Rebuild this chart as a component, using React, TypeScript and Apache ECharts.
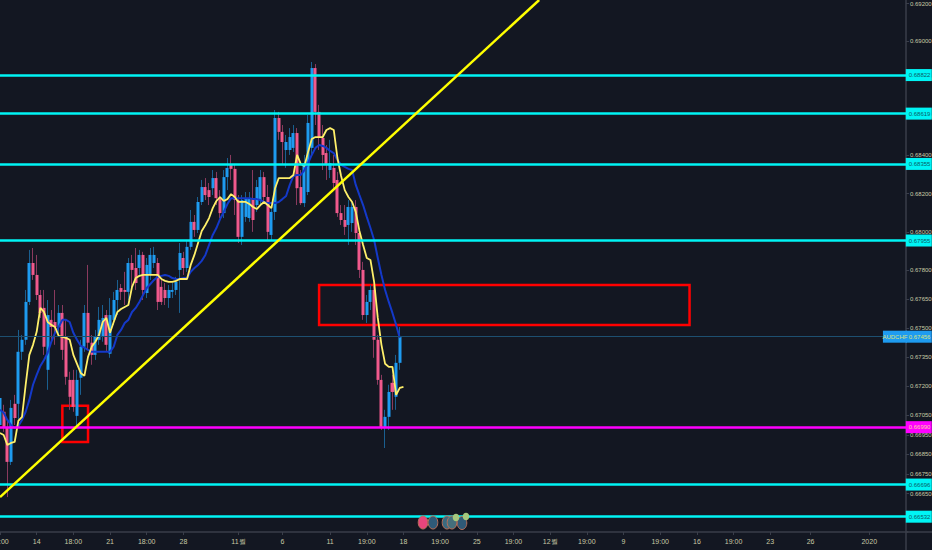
import React, { useEffect, useRef } from "react";
import * as echarts from "echarts";

const opens = [0.67001,0.67069,0.66991,0.66812,0.67110,0.67110,0.67378,0.67440,0.67636,0.67838,0.67776,0.67672,0.67605,0.67285,0.67543,0.67532,0.67506,0.67579,0.67455,0.67233,0.67233,0.67048,0.67244,0.67404,0.67579,0.67425,0.67362,0.67440,0.67455,0.67568,0.67368,0.67543,0.67646,0.67708,0.67698,0.67688,0.67838,0.67812,0.67812,0.67880,0.67682,0.67776,0.67838,0.67838,0.67714,0.67698,0.67656,0.67688,0.67698,0.67802,0.67864,0.67812,0.67922,0.68052,0.68010,0.68156,0.68234,0.68218,0.68228,0.68281,0.68176,0.68098,0.68286,0.68350,0.68329,0.68166,0.67974,0.68078,0.68072,0.68176,0.68140,0.68166,0.68286,0.68182,0.67984,0.68104,0.68596,0.68523,0.68428,0.68428,0.68439,0.68517,0.68234,0.68150,0.68208,0.68439,0.68859,0.68628,0.68491,0.68412,0.68323,0.68334,0.68271,0.68098,0.68062,0.68036,0.68046,0.68130,0.67994,0.67802,0.67568,0.67636,0.67698,0.67440,0.67233,0.66991,0.67043,0.67218,0.67146,0.67321];
const closes = [0.67140,0.66991,0.66812,0.67089,0.67037,0.67378,0.67440,0.67636,0.67838,0.67776,0.67672,0.67579,0.67404,0.67568,0.67506,0.67506,0.67579,0.67388,0.67249,0.67146,0.67094,0.67233,0.67404,0.67579,0.67425,0.67362,0.67455,0.67543,0.67553,0.67414,0.67568,0.67646,0.67698,0.67688,0.67688,0.67838,0.67802,0.67734,0.67880,0.67698,0.67828,0.67880,0.67880,0.67636,0.67636,0.67656,0.67698,0.67698,0.67740,0.67890,0.67812,0.67922,0.68052,0.68010,0.68156,0.68234,0.68192,0.68182,0.68281,0.68176,0.68098,0.68286,0.68334,0.68329,0.68166,0.67974,0.68166,0.68176,0.68176,0.68062,0.68234,0.68286,0.68182,0.68000,0.68104,0.68596,0.68523,0.68470,0.68470,0.68496,0.68517,0.68228,0.68150,0.68360,0.68570,0.68859,0.68628,0.68491,0.68402,0.68350,0.68360,0.68255,0.68098,0.68062,0.68026,0.68130,0.68130,0.67994,0.67802,0.67568,0.67636,0.67698,0.67440,0.67233,0.66991,0.67043,0.67171,0.67171,0.67321,0.67456];
const lows = [0.66976,0.66966,0.66632,0.66796,0.67001,0.67027,0.67336,0.67414,0.67620,0.67750,0.67646,0.67553,0.67362,0.67182,0.67440,0.67414,0.67465,0.67336,0.67208,0.67079,0.67069,0.66991,0.67156,0.67378,0.67388,0.67311,0.67336,0.67414,0.67430,0.67378,0.67347,0.67517,0.67568,0.67646,0.67620,0.67646,0.67698,0.67698,0.67776,0.67646,0.67656,0.67750,0.67812,0.67594,0.67620,0.67620,0.67605,0.67656,0.67672,0.67579,0.67776,0.67792,0.67906,0.67974,0.67994,0.68140,0.68166,0.68140,0.68192,0.68140,0.68072,0.68072,0.68218,0.68271,0.68088,0.67942,0.67932,0.68052,0.68052,0.68000,0.68104,0.68140,0.68150,0.67958,0.67958,0.68062,0.68481,0.68350,0.68334,0.68402,0.68418,0.68140,0.68140,0.68130,0.68192,0.68402,0.68559,0.68428,0.68323,0.68271,0.68281,0.68218,0.68078,0.68036,0.67984,0.67932,0.68000,0.67932,0.67760,0.67543,0.67527,0.67594,0.67347,0.67208,0.66976,0.66883,0.66976,0.67079,0.67079,0.67285];
const highs = [0.67182,0.67105,0.67027,0.67130,0.67156,0.67491,0.67465,0.67698,0.67906,0.67916,0.67880,0.67698,0.67698,0.67646,0.67594,0.67698,0.67620,0.67620,0.67543,0.67275,0.67285,0.67285,0.67440,0.67620,0.67828,0.67465,0.67491,0.67610,0.67620,0.67594,0.67656,0.67688,0.67750,0.67729,0.67792,0.67864,0.67880,0.67916,0.67906,0.67896,0.67864,0.67916,0.67922,0.67864,0.67750,0.67734,0.67724,0.67734,0.67766,0.67942,0.67896,0.67958,0.68114,0.68088,0.68182,0.68271,0.68281,0.68255,0.68323,0.68313,0.68218,0.68323,0.68386,0.68402,0.68350,0.68192,0.68192,0.68208,0.68208,0.68323,0.68271,0.68323,0.68313,0.68245,0.68140,0.68638,0.68628,0.68559,0.68507,0.68543,0.68559,0.68543,0.68323,0.68402,0.68612,0.68891,0.68880,0.68665,0.68559,0.68454,0.68481,0.68402,0.68313,0.68140,0.68140,0.68166,0.68166,0.68166,0.68020,0.67844,0.67672,0.67724,0.67724,0.67465,0.67259,0.67079,0.67208,0.67259,0.67362,0.67506];
const maFast = [0.66960,0.66950,0.66899,0.66909,0.66914,0.67022,0.67043,0.67208,0.67362,0.67414,0.67481,0.67605,0.67584,0.67532,0.67517,0.67506,0.67460,0.67455,0.67450,0.67440,0.67362,0.67316,0.67269,0.67254,0.67352,0.67404,0.67430,0.67465,0.67532,0.67553,0.67476,0.67532,0.67584,0.67599,0.67610,0.67620,0.67714,0.67760,0.67771,0.67776,0.67776,0.67776,0.67776,0.67776,0.67755,0.67745,0.67740,0.67740,0.67745,0.67755,0.67755,0.67755,0.67828,0.67880,0.67942,0.68005,0.68036,0.68072,0.68124,0.68161,0.68182,0.68161,0.68171,0.68197,0.68182,0.68156,0.68156,0.68156,0.68145,0.68130,0.68119,0.68140,0.68156,0.68140,0.68124,0.68228,0.68281,0.68281,0.68281,0.68281,0.68297,0.68402,0.68355,0.68344,0.68418,0.68486,0.68496,0.68496,0.68496,0.68533,0.68543,0.68533,0.68386,0.68292,0.68218,0.68182,0.68156,0.68104,0.68005,0.67932,0.67864,0.67854,0.67740,0.67553,0.67414,0.67316,0.67300,0.67300,0.67156,0.67192,0.67197];
const maSlow = [0.67079,0.67064,0.67027,0.67001,0.66986,0.66996,0.67027,0.67069,0.67130,0.67208,0.67259,0.67305,0.67336,0.67373,0.67430,0.67476,0.67506,0.67543,0.67543,0.67532,0.67476,0.67440,0.67409,0.67399,0.67388,0.67378,0.67378,0.67378,0.67378,0.67378,0.67378,0.67404,0.67465,0.67491,0.67527,0.67543,0.67584,0.67605,0.67636,0.67672,0.67708,0.67729,0.67750,0.67766,0.67771,0.67776,0.67771,0.67760,0.67755,0.67755,0.67760,0.67760,0.67792,0.67812,0.67828,0.67849,0.67880,0.67932,0.67984,0.68020,0.68067,0.68104,0.68145,0.68176,0.68176,0.68176,0.68176,0.68176,0.68176,0.68171,0.68171,0.68166,0.68156,0.68150,0.68150,0.68150,0.68156,0.68171,0.68187,0.68245,0.68292,0.68297,0.68297,0.68323,0.68360,0.68402,0.68439,0.68454,0.68449,0.68439,0.68423,0.68412,0.68376,0.68350,0.68339,0.68329,0.68323,0.68245,0.68192,0.68140,0.68078,0.68020,0.67958,0.67864,0.67776,0.67698,0.67636,0.67579,0.67517,0.67450];

const categoryCount = 248;
const tickIndexes = [0,10,20,30,40,50,65,77,90,100,110,120,130,140,150,160,170,180,190,200,210,221,237];
const tickTexts = ["18:00","14","18:00","21","18:00","28","11월","6","11","19:00","18","19:00","25","19:00","12월","19:00","9","19:00","16","19:00","23","26","2020"];
const priceTicks = [0.692,0.69,0.688,0.686,0.684,0.682,0.68,0.678,0.6765,0.675,0.6735,0.672,0.6705,0.6695,0.6685,0.6675,0.6665];
const cyanLevels = [0.68822,0.68619,0.68355,0.67955,0.66696,0.66532];
const magentaLevel = 0.6699;
const lastPrice = 0.67456;
const priceTop = 0.69219;
const priceBottom = 0.66454;
const trendStart = [0, 0.66632];
const trendEnd = [147, 0.69219];
const boxSmall = [17, 24, 0.66914, 0.671];
const boxLarge = [87, 188, 0.67517, 0.67724];

const BG = "#131722";
const AXIS = "#3a3e4a";
const TXT = "#c9caa6";
const FONT = "'Liberation Sans Narrow','Liberation Sans',Arial,sans-serif";
const UP = "#1e9bf0";
const DOWN = "#f0598c";
const L = Math.log;

const categories = Array.from({ length: categoryCount }, (_, i) => String(i));
const tickMap = new Map(tickIndexes.map((ix, k) => [ix, tickTexts[k]]));
const fmt = (v: number) => v.toFixed(5);

function tag(bg: string, color: string, price: number) {
  return {
    show: true,
    position: "end",
    distance: -2,
    formatter: fmt(price),
    backgroundColor: bg,
    color,
    fontSize: 6,
    fontFamily: FONT,
    padding: [3, 0, 3, 3],
    width: 23,
    lineHeight: 6,
    align: "left",
    overflow: "none",
  };
}

function box(b: number[]) {
  return [{ coord: [b[0], L(b[3])] }, { coord: [b[1], L(b[2])] }];
}

const ellipses = [
  [423, 522.5, "#e8457c"],
  [433, 522.5, "#2f5a78"],
  [447, 522.5, "#3a6a80"],
  [452, 522.5, "#446f7c"],
  [462, 523, "#2f5a78"],
] as [number, number, string][];
const greens = [[456, 517.5], [466, 516.5]];

export default function App() {
  const ref = useRef<HTMLDivElement>(null);
  useEffect(() => {
    const chart = echarts.init(ref.current!, null, { renderer: "svg" });
    const wicks = opens.map((o, i) => [L(o), L(closes[i]), L(lows[i]), L(highs[i])]);
    const bodies = opens.map((o, i) => [L(o), L(closes[i]), L(Math.min(o, closes[i])), L(Math.max(o, closes[i]))]);
    chart.setOption({
      animation: false,
      backgroundColor: BG,
      grid: { left: -1.83, top: 0, width: 909.6, height: 532, containLabel: false, outerBoundsMode: "none" },
      xAxis: {
        type: "category",
        data: categories,
        boundaryGap: true,
        axisLine: { show: true, lineStyle: { color: AXIS, width: 1.5 } },
        axisTick: {
          show: true,
          alignWithLabel: true,
          length: 3,
          interval: (i: number) => tickMap.has(i),
          lineStyle: { color: AXIS },
        },
        axisLabel: {
          interval: (i: number) => tickMap.has(i),
          formatter: (_: string, i: number) => tickMap.get(i) ?? "",
          color: TXT,
          fontSize: 7,
          fontFamily: FONT,
          margin: 6,
          hideOverlap: false,
        },
        splitLine: { show: false },
      },
      yAxis: {
        type: "value",
        position: "right",
        offset: -1.77,
        min: L(priceBottom),
        max: L(priceTop),
        axisLine: { show: true, lineStyle: { color: AXIS, width: 1.5 } },
        axisTick: { show: true, length: 3, customValues: priceTicks.map(L), lineStyle: { color: AXIS } },
        axisLabel: {
          customValues: priceTicks.map(L),
          formatter: (v: number) => fmt(Math.exp(v)),
          color: TXT,
          fontSize: 6,
          fontFamily: FONT,
          margin: 4,
        },
        splitLine: { show: false },
      },
      series: [
        {
          type: "candlestick",
          data: wicks,
          barWidth: 1,
          silent: true,
          itemStyle: { color: "#1a5f90", color0: "#8a3a5e", borderColor: "#1a5f90", borderColor0: "#8a3a5e", borderWidth: 1 },
        },
        {
          type: "candlestick",
          data: bodies,
          barWidth: 3.6,
          silent: true,
          itemStyle: { color: UP, color0: DOWN, borderColor: UP, borderColor0: DOWN, borderWidth: 0 },
        },
        {
          type: "line",
          data: maSlow.map(L),
          showSymbol: false,
          symbol: "none",
          silent: true,
          lineStyle: { color: "#1439c9", width: 2 },
        },
        {
          type: "line",
          data: maFast.map(L),
          showSymbol: false,
          symbol: "none",
          silent: true,
          lineStyle: { color: "#fff06a", width: 1.8 },
          markLine: {
            silent: true,
            symbol: "none",
            precision: 8,
            animation: false,
            data: [
              ...cyanLevels.map((p) => ({
                yAxis: L(p),
                lineStyle: { color: "#00f5f5", width: 2.5, type: "solid" },
                label: tag("#00f5f5", "#0b5c66", p),
              })),
              {
                yAxis: L(magentaLevel),
                lineStyle: { color: "#ff00ff", width: 2.5, type: "solid" },
                label: tag("#ff00ff", "#ffd0a0", magentaLevel),
              },
              {
                yAxis: L(lastPrice),
                lineStyle: { color: "#1d4f70", width: 1, type: "solid" },
                label: tag(UP, "#d9e37a", lastPrice),
              },
              [
                { coord: [trendStart[0], L(trendStart[1])], lineStyle: { color: "#ffff00", width: 2.5, type: "solid" }, label: { show: false } },
                { coord: [trendEnd[0], L(trendEnd[1])] },
              ],
            ],
          },
          markArea: {
            silent: true,
            itemStyle: { color: "rgba(0,0,0,0)", borderColor: "#ff0000", borderWidth: 2.5 },
            data: [box(boxSmall), box(boxLarge)],
          },
          markPoint: {
            silent: true,
            data: [
              {
                coord: [244, L(lastPrice)],
                symbol: "rect",
                symbolSize: [24, 12],
                itemStyle: { color: UP },
                label: { show: true, position: "inside", formatter: "AUDCHF", color: "#d9e37a", fontSize: 6, fontFamily: FONT },
              },
            ],
          },
        },
      ],
      graphic: [
        { type: "line", silent: true, shape: { x1: 906, y1: 532, x2: 906, y2: 550 }, style: { stroke: AXIS, lineWidth: 1.5 } },
        { type: "line", silent: true, shape: { x1: 906, y1: 532, x2: 932, y2: 532 }, style: { stroke: AXIS, lineWidth: 1.5 } },
        ...ellipses.map(([cx, cy, c]) => ({
          type: "ellipse",
          silent: true,
          z: 20,
          shape: { cx, cy, rx: 4.8, ry: 6.5 },
          style: { fill: c, stroke: "#b8705a", lineWidth: 1 },
        })),
        ...greens.map(([cx, cy]) => ({
          type: "ellipse",
          silent: true,
          z: 21,
          shape: { cx, cy, rx: 3.3, ry: 3.8 },
          style: { fill: "#a6c87c" },
        })),
      ],
    });
    return () => chart.dispose();
  }, []);
  return <div ref={ref} style={{ position: "absolute", left: 0, top: 0, width: 932, height: 550 }} />;
}
